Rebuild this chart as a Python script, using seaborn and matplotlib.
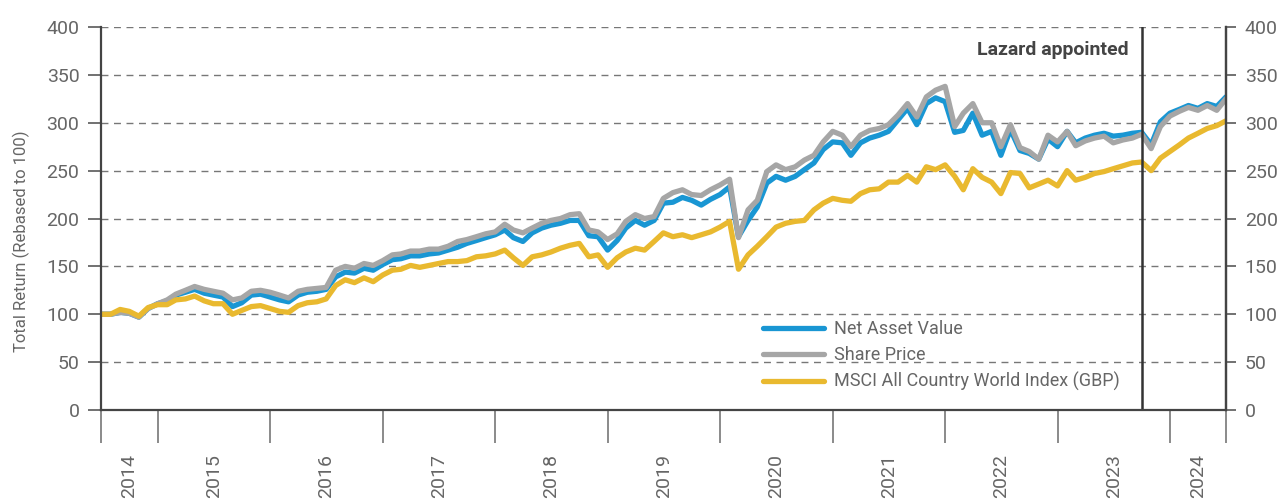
import pandas as pd
import numpy as np
import seaborn as sns
import matplotlib.pyplot as plt
import matplotlib.dates as mdates
from matplotlib.ticker import FixedLocator, FixedFormatter, NullFormatter

#monthly points, Jul 2014 .. Jul 2024
dates = pd.date_range('2014-07-01', '2024-07-01', freq='MS')

nav = [100, 100, 102, 101, 97, 106, 111, 114, 120, 123, 126, 122, 120, 118, 108, 112,
       120, 121, 118, 115, 113, 120, 123, 124, 126, 139, 144, 143, 148, 146, 152, 157,
       158, 161, 161, 163, 164, 167, 170, 174, 177, 180, 183, 188, 180, 176, 185, 190,
       193, 195, 198, 198, 182, 181, 167, 177, 190, 198, 193, 198, 216, 217, 222, 219,
       214, 220, 225, 233, 181, 198, 212, 237, 244, 240, 244, 251, 258, 272, 280, 279,
       266, 279, 284, 287, 291, 303, 315, 298, 320, 326, 322, 290, 292, 310, 287, 291,
       266, 293, 271, 268, 262, 283, 275, 291, 279, 284, 287, 289, 286, 287, 289, 290,
       277, 301, 310, 314, 318, 315, 320, 317, 327]

share_price = [100, 100, 102, 101, 97, 106, 111, 115, 121, 125, 129, 126, 124, 122, 115, 117,
               124, 125, 123, 120, 117, 124, 126, 127, 128, 146, 150, 148, 153, 151, 156, 162,
               163, 166, 166, 168, 168, 171, 176, 178, 181, 184, 186, 194, 188, 185, 190, 195,
               198, 200, 204, 205, 188, 186, 178, 184, 197, 204, 200, 202, 221, 227, 230, 225,
               224, 230, 235, 241, 180, 209, 219, 249, 256, 251, 254, 261, 266, 280, 291, 287,
               275, 287, 292, 294, 298, 308, 320, 306, 327, 334, 338, 296, 310, 320, 300, 300,
               275, 298, 274, 270, 262, 287, 280, 291, 276, 281, 284, 286, 279, 282, 284, 288,
               273, 296, 307, 312, 316, 313, 318, 313, 325]

msci = [100, 100, 105, 103, 98, 107, 110, 110, 115, 116, 119, 114, 111, 111, 100, 104,
        108, 109, 106, 103, 102, 109, 112, 113, 116, 130, 136, 133, 138, 134, 141, 146,
        147, 151, 149, 151, 153, 155, 155, 156, 160, 161, 163, 167, 159, 151, 160, 162,
        165, 169, 172, 174, 160, 162, 149, 159, 165, 169, 167, 176, 185, 181, 183, 180,
        183, 186, 191, 197, 147, 162, 171, 181, 191, 195, 197, 198, 209, 216, 221, 219,
        218, 226, 230, 231, 238, 238, 245, 238, 254, 251, 256, 244, 230, 252, 243, 238,
        226, 248, 247, 232, 236, 240, 234, 250, 240, 243, 247, 249, 252, 255, 258, 259,
        250, 263, 270, 277, 284, 289, 294, 297, 302]

series_names = ['Net Asset Value', 'Share Price', 'MSCI All Country World Index (GBP)']
series_colors = ['#1996d3', '#a6a6a6', '#e9b92f']
year_labels = [str(y) for y in range(2014, 2025)]
y_ticks = [0, 50, 100, 150, 200, 250, 300, 350, 400]
lazard_date = pd.Timestamp('2023-10-01')

TEXT = '#666666'
DARK = '#444444'

df = pd.DataFrame({'date': dates, series_names[0]: nav,
                   series_names[1]: share_price, series_names[2]: msci})
long_df = df.melt('date', var_name='series', value_name='value')

sns.set_theme(style='white')
plt.rcParams['font.family'] = ['Roboto', 'DejaVu Sans']

fig = plt.figure(figsize=(12.8, 4.99), dpi=100)
ax = fig.add_axes([101 / 1280, 1 - 410 / 499, 1125 / 1280, 383 / 499])

sns.lineplot(data=long_df, x='date', y='value', hue='series', hue_order=series_names,
             palette=series_colors, linewidth=3.8, ax=ax, legend=False)

ax.set_xlim(dates[0], dates[-1])
ax.set_ylim(0, 400)
ax.set_xlabel('')

#year boundaries as major ticks, year names centred in between
bounds = [dates[0]] + [pd.Timestamp(f'{y}-01-01') for y in range(2015, 2025)] + [dates[-1]]
bnum = mdates.date2num(bounds)
mids = (bnum[:-1] + bnum[1:]) / 2
ax.xaxis.set_major_locator(FixedLocator(bnum))
ax.xaxis.set_major_formatter(NullFormatter())
ax.xaxis.set_minor_locator(FixedLocator(mids))
ax.xaxis.set_minor_formatter(FixedFormatter(year_labels))
ax.tick_params(axis='x', which='major', bottom=True, length=24, width=1.2,
               color='#777777', direction='out')
ax.tick_params(axis='x', which='minor', bottom=True, length=0, pad=32, labelsize=14,
               labelcolor=TEXT, labelrotation=90)

ax.set_yticks(y_ticks)
ax.tick_params(axis='y', which='major', left=True, length=9.5, width=1.3, color='#666666',
               pad=6, labelsize=14, labelcolor=TEXT)
ax.yaxis.grid(True, linestyle=(0, (5, 4)), color='#777777', linewidth=1)
ax.xaxis.grid(False)

for side in ['left', 'right', 'bottom']:
    ax.spines[side].set_color(DARK)
    ax.spines[side].set_linewidth(1.6)
ax.spines['top'].set_visible(False)

ax.set_ylabel('Total Return (Rebased to 100)', fontsize=12, color=TEXT)
ax.yaxis.set_label_coords(-0.063, 0.44)

#right hand axis copy
ax2 = ax.twinx()
ax2.set_ylim(0, 400)
ax2.set_yticks(y_ticks)
ax2.tick_params(axis='y', right=True, length=7.5, width=1.3, color='#666666',
                pad=6, labelsize=14, labelcolor=TEXT)
for side in ['left', 'top', 'bottom']:
    ax2.spines[side].set_visible(False)
ax2.spines['right'].set_color(DARK)
ax2.spines['right'].set_linewidth(1.6)
ax2.grid(False)

#manager change marker
ax.axvline(lazard_date, color='#333333', linewidth=1.8)
ax.annotate('Lazard appointed', xy=(lazard_date, 376), xytext=(-9, 0),
            textcoords='offset points', ha='right', va='center',
            fontsize=14, fontweight='bold', color=DARK)

handles = ax.get_lines()[:3]
ax.legend(handles, series_names, loc='upper left', bbox_to_anchor=(0.588, 0.235),
          frameon=False, fontsize=13, handlelength=3.4, handletextpad=0.55,
          labelspacing=0.45, borderaxespad=0, borderpad=0, labelcolor=TEXT)

fig.savefig('out.png', dpi=100)
